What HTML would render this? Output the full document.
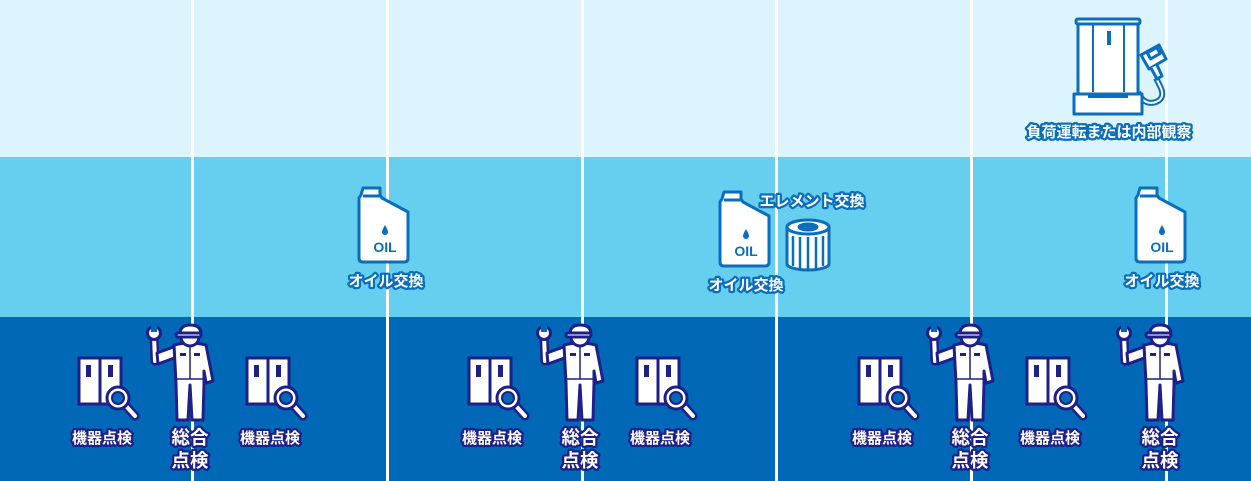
<!DOCTYPE html>
<html><head><meta charset="utf-8"><style>
html,body{margin:0;padding:0;width:1251px;height:481px;overflow:hidden;background:#dcf4fd}
svg{display:block}
text{font-family:"Liberation Sans","Noto Sans CJK JP",sans-serif;font-weight:bold;text-anchor:middle;paint-order:stroke;stroke-linejoin:round}
.lb{fill:#fff;stroke:#0a6ebd;stroke-width:4.5px;font-size:15px}
.ln{fill:#fff;stroke:#1d2088;stroke-width:4.5px;font-size:15px}
.lg{fill:#fff;stroke:#1d2088;stroke-width:4.5px;font-size:18.5px}
</style></head><body>
<svg width="1251" height="481" viewBox="0 0 1251 481" xmlns="http://www.w3.org/2000/svg">
<defs>
<g id="cab">
  <rect x="-23" y="-22" width="42" height="46" fill="#fff" stroke="#1d2088" stroke-width="3"/>
  <line x1="-2" y1="-22" x2="-2" y2="24" stroke="#1d2088" stroke-width="3"/>
  <rect x="-16" y="-15" width="5" height="12" fill="#1d2088"/>
  <rect x="6" y="-15" width="5" height="12" fill="#1d2088"/>
  <line x1="24" y1="26" x2="33" y2="36" stroke="#1d2088" stroke-width="9" stroke-linecap="round"/>
  <line x1="24" y1="26" x2="33" y2="36" stroke="#fff" stroke-width="4" stroke-linecap="round"/>
  <circle cx="16" cy="18" r="11" fill="#fff" stroke="#1d2088" stroke-width="3"/>
  <circle cx="16" cy="18" r="6" fill="#0068b7" stroke="#1d2088" stroke-width="2"/>
</g>
<g id="wk" stroke="#1d2088" stroke-width="3" fill="#fff" stroke-linejoin="round">
  <line x1="-36" y1="2" x2="-35" y2="28" stroke-width="9" stroke-linecap="round"/>
  <line x1="-36" y1="2" x2="-35" y2="28" stroke="#fff" stroke-width="4" stroke-linecap="round"/>
  <circle cx="-36" cy="0" r="6.5"/>
  <rect x="-39" y="-9" width="6" height="8" fill="#0068b7" stroke="none"/>
  <path d="M-33,20 L-14,13 L-13,24 L-32,31 Z"/>
  <path d="M-16,12 Q0,8 16,12 L23,48 L16,50 L14,38 L14,50 L13,87 L2,87 L0,52 L-2,87 L-13,87 L-14,50 Z"/>
  <line x1="0" y1="13" x2="0" y2="46" stroke-width="1.5"/>
  <line x1="-14" y1="46" x2="14" y2="46" stroke-width="1.5"/>
  <rect x="-10" y="20" width="6" height="3" fill="#1d2088" stroke="none"/>
  <rect x="4" y="20" width="6" height="3" fill="#1d2088" stroke="none"/>
  <circle cx="0" cy="4" r="9"/>
  <path d="M-10,1 Q-10,-8 0,-8 Q11,-8 11,1 Z"/>
  <rect x="-14" y="0" width="25" height="4" rx="2"/>
</g>
<g id="oil">
  <path d="M-22,-40 h17 v7 l2,3 l26,14 v46 q0,4 -4,4 h-41 q-4,0 -4,-4 v-60 l2,-3 z" fill="#fff" stroke="#0a6ebd" stroke-width="3" stroke-linejoin="round"/>
  <line x1="-22" y1="-32" x2="-5" y2="-32" stroke="#0a6ebd" stroke-width="3"/>
  <path d="M0,-3 q-3,5 -3,7 a3,3 0 0 0 6,0 q0,-2 -3,-7z" fill="#0a6ebd"/>
  <text x="0" y="24" style="font-size:14px;fill:#0a6ebd;stroke:none">OIL</text>
</g>
</defs>
<rect x="0" y="0" width="1251" height="157" fill="#dcf4fd"/>
<rect x="0" y="157" width="1251" height="160" fill="#66cfef"/>
<rect x="0" y="317" width="1251" height="164" fill="#0068b7"/>
<g fill="#fff">
  <rect x="191" y="0" width="3" height="481"/>
  <rect x="386" y="0" width="3" height="481"/>
  <rect x="581" y="0" width="3" height="481"/>
  <rect x="775" y="0" width="3" height="481"/>
  <rect x="970" y="0" width="3" height="481"/>
  <rect x="1165" y="0" width="3" height="481"/>
</g>
<use href="#cab" x="102" y="380"/><use href="#cab" x="270" y="380"/>
<use href="#cab" x="492" y="380"/><use href="#cab" x="660" y="380"/>
<use href="#cab" x="882" y="380"/><use href="#cab" x="1050" y="380"/>
<use href="#wk" x="190" y="333"/><use href="#wk" x="580" y="333"/>
<use href="#wk" x="970" y="333"/><use href="#wk" x="1160" y="333"/>
<text class="ln" x="102" y="443">機器点検</text>
<text class="ln" x="270" y="443">機器点検</text>
<text class="ln" x="492" y="443">機器点検</text>
<text class="ln" x="660" y="443">機器点検</text>
<text class="ln" x="882" y="443">機器点検</text>
<text class="ln" x="1050" y="443">機器点検</text>
<text class="lg" x="190" y="444">総合</text><text class="lg" x="190" y="467">点検</text>
<text class="lg" x="580" y="444">総合</text><text class="lg" x="580" y="467">点検</text>
<text class="lg" x="970" y="444">総合</text><text class="lg" x="970" y="467">点検</text>
<text class="lg" x="1160" y="444">総合</text><text class="lg" x="1160" y="467">点検</text>
<use href="#oil" x="385" y="228"/>
<use href="#oil" x="746" y="232"/>
<use href="#oil" x="1162" y="228"/>
<text class="lb" x="386" y="286">オイル交換</text>
<text class="lb" x="746" y="290">オイル交換</text>
<text class="lb" x="1162" y="286">オイル交換</text>
<text class="lb" x="812" y="206">エレメント交換</text>
<g stroke="#0a6ebd" stroke-width="3" fill="#fff">
  <path d="M787,227 v37 a21,6 0 0 0 42,0 v-37"/>
  <ellipse cx="808" cy="227" rx="21" ry="7"/>
  <ellipse cx="808" cy="227" rx="9" ry="3" fill="#0a6ebd"/>
  <g stroke-width="2.5"><line x1="793" y1="236" x2="793" y2="266"/><line x1="800" y1="237" x2="800" y2="269"/><line x1="808" y1="237" x2="808" y2="270"/><line x1="816" y1="237" x2="816" y2="269"/><line x1="823" y1="236" x2="823" y2="266"/></g>
</g>
<g stroke="#0a6ebd" stroke-width="3" fill="#fff" stroke-linejoin="round">
  <path d="M1138,92 q6,14 18,10 q10,-4 4,-16 l-4,-8" fill="none" stroke-width="6"/>
  <path d="M1138,92 q6,14 18,10 q10,-4 4,-16 l-4,-8" fill="none" stroke="#fff" stroke-width="2"/>
  <rect x="1078" y="22" width="60" height="72"/>
  <rect x="1076" y="19" width="64" height="5" rx="2"/>
  <line x1="1093" y1="24" x2="1093" y2="92" stroke-width="2"/>
  <line x1="1124" y1="24" x2="1124" y2="92" stroke-width="2"/>
  <rect x="1107" y="31" width="4" height="14" fill="#0a6ebd" stroke="none"/>
  <rect x="1074" y="94" width="68" height="20"/>
  <rect x="1088" y="94" width="40" height="4" fill="#0a6ebd" stroke="none"/>
  <path d="M1141,55 l18,-10 l7,14 l-17,10 z"/>
  <rect x="1148" y="50" width="11" height="7" fill="#fff" transform="rotate(-30 1153 53)"/>
  <path d="M1151,68 l6,11 l5,-3 l-5,-11"/>
</g>
<text class="lb" x="1109" y="137">負荷運転または内部観察</text>
</svg>
</body></html>
